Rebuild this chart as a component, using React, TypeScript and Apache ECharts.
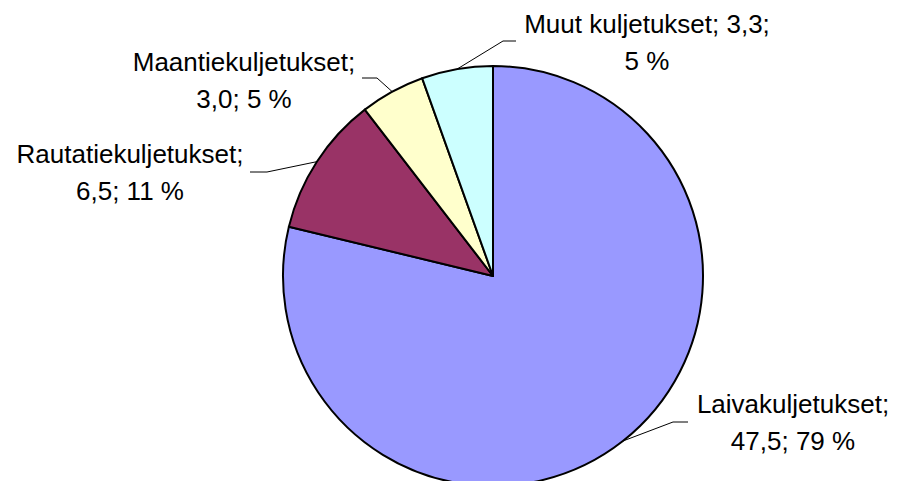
import React, { useEffect, useRef } from "react";
import * as echarts from "echarts";

const categories = ["Laivakuljetukset", "Rautatiekuljetukset", "Maantiekuljetukset", "Muut kuljetukset"];
const values = [47.5, 6.5, 3.0, 3.3];
const colors = ["#9999FF", "#993366", "#FFFFCC", "#CCFFFF"];
// which part of the label ends the first line: 1 = after name, 2 = after value
const breakAfter = [1, 1, 1, 2];

// label block centres and leader line elbows/ends (label placement only)
const labelCentres: number[][] = [
  [793, 422],
  [130, 172],
  [244, 80],
  [647, 42],
];
const leaderElbow: number[][] = [
  [673, 422],
  [267, 172],
  [377, 78],
  [503, 41],
];
const leaderEnd: number[][] = [
  [688, 422],
  [250, 172],
  [362, 78],
  [516, 41],
];

const fmt = (v: number) => v.toFixed(1).replace(".", ",");

export default function App() {
  const ref = useRef<HTMLDivElement>(null);
  useEffect(() => {
    if (!ref.current) return;
    const chart = echarts.init(ref.current, null, { renderer: "svg" });
    chart.setOption({
      animation: false,
      backgroundColor: "#ffffff",
      series: [
        {
          type: "pie",
          center: [493, 276],
          radius: 210,
          startAngle: 90,
          clockwise: true,
          avoidLabelOverlap: false,
          data: categories.map((name, i) => ({
            name,
            value: values[i],
            itemStyle: { color: colors[i] },
          })),
          itemStyle: { borderColor: "#000000", borderWidth: 2 },
          emphasis: { disabled: true },
          label: {
            show: true,
            position: "outside",
            color: "#000000",
            fontFamily: "Liberation Sans, Arial, sans-serif",
            fontSize: 26,
            lineHeight: 37,
            align: "center",
            formatter: (p: any) => {
              const i = p.dataIndex;
              const name = p.name + ";";
              const val = fmt(p.value) + ";";
              const pct = Math.round(p.percent) + " %";
              return breakAfter[i] === 1
                ? `${name}\n${val} ${pct}`
                : `${name} ${val}\n${pct}`;
            },
          },
          labelLine: {
            show: true,
            lineStyle: { color: "#000000", width: 1 },
          },
          labelLayout: (params: any) => {
            const i = params.dataIndex;
            const p0 = params.labelLinePoints ? params.labelLinePoints[0] : leaderElbow[i];
            return {
              x: labelCentres[i][0],
              y: labelCentres[i][1],
              align: "center",
              verticalAlign: "middle",
              labelLinePoints: [p0, leaderElbow[i], leaderEnd[i]],
            };
          },
        },
      ],
    });
    return () => chart.dispose();
  }, []);
  return (
    <div
      ref={ref}
      style={{ position: "fixed", left: 0, top: 0, width: 898, height: 481 }}
    />
  );
}
